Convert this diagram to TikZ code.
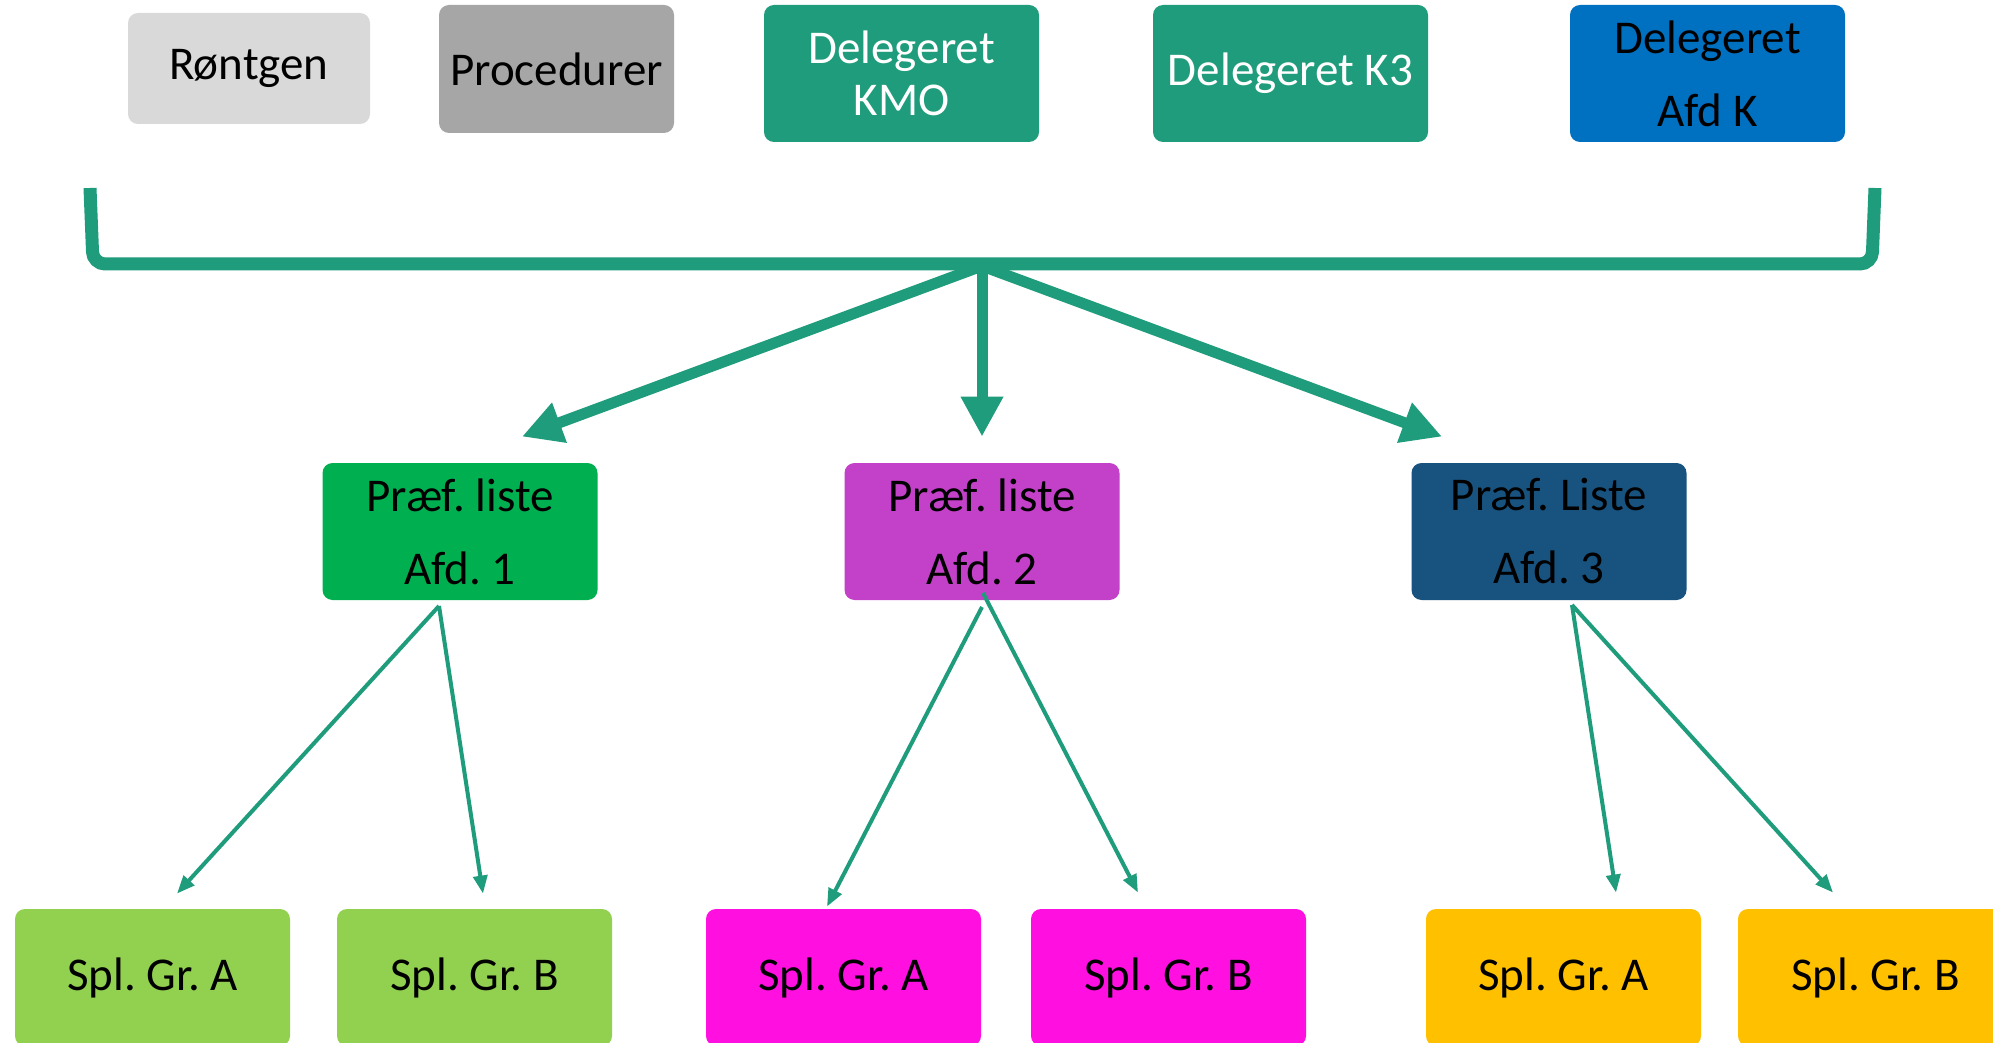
\documentclass[tikz,border=0pt]{standalone}
\usepackage{fontspec}
\setmainfont{Carlito}
\usepackage{xcolor}
\usetikzlibrary{arrows.meta,calc}
\frenchspacing

\definecolor{lgray}{HTML}{D9D9D9}
\definecolor{mgray}{HTML}{A6A6A6}
\definecolor{delgreen}{HTML}{1F9C7B}
\definecolor{afdblue}{HTML}{0070C0}
\definecolor{afdgreen}{HTML}{00B050}
\definecolor{afdpurple}{HTML}{C341C8}
\definecolor{afdnavy}{HTML}{18537F}
\definecolor{splgreen}{HTML}{92D050}
\definecolor{splpink}{HTML}{FF0FE0}
\definecolor{splgold}{HTML}{FFC000}

\begin{document}
\begin{tikzpicture}[x=0.5pt,y=-0.5pt,
    box/.style={rounded corners=5pt,inner sep=0pt,minimum width=137.5pt,minimum height=68.5pt,
        align=center,font=\fontsize{23.5}{36.5}\selectfont},
    bigarrow/.style={line width=5.5pt,delgreen,-{Triangle[length=20pt,width=20pt]}},
    smallarrow/.style={line width=2pt,delgreen,-{Triangle[length=9pt,width=7pt]}}]
    \useasboundingbox (0,0) rectangle (1993,1043);
    \fill[white] (0,0) rectangle (1993,1043);
    \clip (0,0) rectangle (1993,1043);

    % Top row
    \node[box,fill=lgray,minimum width=121pt,minimum height=55.5pt] (rontgen) at (249,68.5) {Røntgen};
    \node[box,fill=mgray,minimum width=117.5pt,minimum height=64pt] (proc) at (556.5,69) {Procedurer};
    \node[box,fill=delgreen,text=white,font=\fontsize{23.5}{26}\selectfont] (kmo) at (901.5,73.5) {Delegeret\\KMO};
    \node[box,fill=delgreen,text=white] (k3) at (1290.5,73.5) {Delegeret K3};
    \node[box,fill=afdblue] (afdk) at (1707.5,73.5) {Delegeret\\Afd K};

    % Bracket
    \coordinate (brl) at (90,188);
    \coordinate (brr) at (1875,188);
    \draw[delgreen,line width=6.5pt,rounded corners=6pt] (brl) -- (93,264) -- (1872,264) -- (brr);

    % Preference lists
    \node[box,fill=afdgreen] (pref1) at (460,531.5) {Præf. liste\\Afd. 1};
    \node[box,fill=afdpurple] (pref2) at (982,531.5) {Præf. liste\\Afd. 2};
    \node[box,fill=afdnavy] (pref3) at (1549,531.5) {Præf. Liste\\Afd. 3};

    % Thick arrows
    \coordinate (fan) at (982,266);
    \draw[bigarrow] (fan) -- ($(pref1.north)+(62,-26)$);
    \draw[bigarrow] (fan) -- ($(pref2.north)+(0,-26)$);
    \draw[bigarrow] (fan) -- ($(pref3.north)+(-107,-26)$);

    % Groups
    \node[box,fill=splgreen] (g1a) at (152.5,977.5) {Spl. Gr. A};
    \node[box,fill=splgreen] (g1b) at (474.5,977.5) {Spl. Gr. B};
    \node[box,fill=splpink] (g2a) at (843.5,977.5) {Spl. Gr. A};
    \node[box,fill=splpink] (g2b) at (1168.5,977.5) {Spl. Gr. B};
    \node[box,fill=splgold] (g3a) at (1563.5,977.5) {Spl. Gr. A};
    \node[box,fill=splgold] (g3b) at (1875.5,977.5) {Spl. Gr. B};

    % Thin arrows
    \coordinate (s1) at (439,606);
    \coordinate (s2) at (982,607);
    \coordinate (s2b) at (983,593);
    \coordinate (s3) at (1572,605);
    \draw[smallarrow] (s1) -- ($(g1a.north)+(24.5,-15)$);
    \draw[smallarrow] (s1) -- ($(g1b.north)+(8.5,-15)$);
    \draw[smallarrow] (s2) -- ($(g2a.north)+(-16.5,-2)$);
    \draw[smallarrow] (s2b) -- ($(g2b.north)+(-30.5,-16)$);
    \draw[smallarrow] (s3) -- ($(g3a.north)+(52.5,-16)$);
    \draw[smallarrow] (s3) -- ($(g3b.north)+(-42.5,-16)$);
\end{tikzpicture}
\end{document}
